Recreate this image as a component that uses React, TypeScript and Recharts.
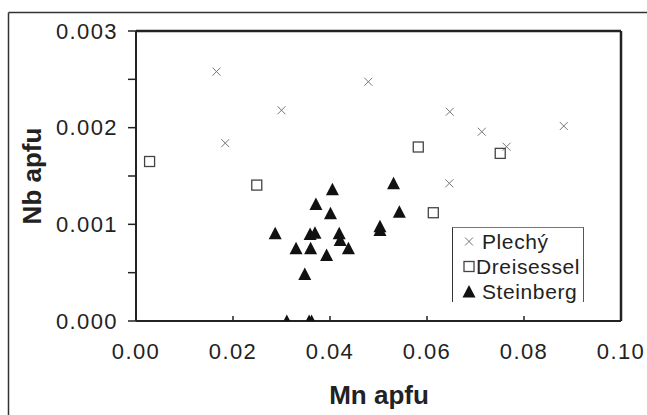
import { ReferenceLine, Scatter, ScatterChart, XAxis, YAxis } from "recharts";

const FONT = '"Liberation Sans", Arial, sans-serif';
const INK = "#222";

// Mn apfu / Nb apfu
const plechyMn = [0.0166, 0.0184, 0.03, 0.0479, 0.0647, 0.0713, 0.0764, 0.0882, 0.0646];
const plechyNb = [0.00258, 0.00184, 0.00218, 0.002475, 0.002165, 0.001958, 0.001803, 0.002017, 0.001424];

const dreisesselMn = [0.0028, 0.0249, 0.0582, 0.0751, 0.0613];
const dreisesselNb = [0.00165, 0.001406, 0.0018, 0.001734, 0.00112];

const steinbergMn = [
  0.0287, 0.033, 0.036, 0.0359, 0.0369, 0.0371, 0.0348, 0.0393, 0.0401, 0.0405,
  0.0419, 0.0421, 0.0438, 0.0503, 0.0503, 0.0531, 0.0543, 0.0311, 0.0357, 0.0362,
];
const steinbergNb = [
  0.000907, 0.000752, 0.000752, 0.0009, 0.000913, 0.00121, 0.000486, 0.000683, 0.001114, 0.001362,
  0.000907, 0.000838, 0.000752, 0.000941, 0.00098, 0.001424, 0.00113, 0, 0, 0,
];

const xTicks = [0, 0.02, 0.04, 0.06, 0.08, 0.1];
const yTicks = [0, 0.0005, 0.001, 0.0015, 0.002, 0.0025, 0.003];

const zip = (xs: number[], ys: number[]) => xs.map((mn, i) => ({ mn, nb: ys[i] }));

function Cross({ cx, cy }: any) {
  const r = 4;
  return (
    <g stroke="#777" strokeWidth={1}>
      <line x1={cx - r} y1={cy - r} x2={cx + r} y2={cy + r} />
      <line x1={cx - r} y1={cy + r} x2={cx + r} y2={cy - r} />
    </g>
  );
}

function Square({ cx, cy }: any) {
  return <rect x={cx - 5} y={cy - 5} width={10} height={10} fill="none" stroke="#444" strokeWidth={1.3} />;
}

function Triangle({ cx, cy }: any) {
  return <polygon points={`${cx},${cy - 6.5} ${cx - 6.5},${cy + 6} ${cx + 6.5},${cy + 6}`} fill="#111" />;
}

// x ticks point into the plot, labels sit below the axis
const X_LABEL_GAP = 22;
function XTick({ x, y, payload }: any) {
  const axisY = y - X_LABEL_GAP;
  return (
    <g>
      <line x1={x} x2={x} y1={axisY} y2={axisY - 5} stroke={INK} strokeWidth={1.5} />
      <text x={x} y={y} dy="0.71em" textAnchor="middle" fill={INK} fontSize={22} fontFamily={FONT} letterSpacing={1.4}>
        {Number(payload.value).toFixed(2)}
      </text>
    </g>
  );
}

const legendItems = [
  { name: "Plechý", Shape: Cross },
  { name: "Dreisessel", Shape: Square },
  { name: "Steinberg", Shape: Triangle },
];

export default function App() {
  return (
    <div
      style={{
        position: "fixed",
        left: 0,
        top: 0,
        width: 647,
        height: 415,
        overflow: "hidden",
        background: "#fff",
        fontFamily: FONT,
      }}
    >
      <style>{"html, body { margin: 0; overflow: hidden; }"}</style>
      <svg width={647} height={415} style={{ position: "absolute", left: 0, top: 0 }}>
        <line x1={8.5} y1={12.5} x2={647} y2={12.5} stroke="#333" strokeWidth={1.5} />
        <line x1={8.5} y1={12.5} x2={8.5} y2={415} stroke="#333" strokeWidth={1.5} />
      </svg>
      <ScatterChart width={647} height={415} margin={{ top: 31, right: 26, bottom: 0, left: 0 }}>
        <XAxis
          type="number"
          dataKey="mn"
          domain={[0, 0.1]}
          ticks={xTicks}
          height={94}
          tickSize={0}
          tickMargin={X_LABEL_GAP}
          axisLine={{ stroke: INK, strokeWidth: 2 }}
          tickLine={false}
          tick={<XTick />}
          allowDataOverflow
        />
        <YAxis
          type="number"
          dataKey="nb"
          domain={[0, 0.003]}
          ticks={yTicks}
          tickFormatter={(v: number) => (Math.round(v * 2000) % 2 === 0 ? v.toFixed(3) : "")}
          width={136}
          tickSize={8}
          tickMargin={10}
          axisLine={{ stroke: INK, strokeWidth: 2 }}
          tickLine={{ stroke: INK, strokeWidth: 1.5 }}
          tick={{ fill: INK, fontSize: 22, fontFamily: FONT, letterSpacing: 1.4 }}
          allowDataOverflow
        />
        <ReferenceLine y={0.003} stroke={INK} strokeWidth={2.5} />
        <ReferenceLine x={0.1} stroke={INK} strokeWidth={2.5} />
        <Scatter name="Plechý" data={zip(plechyMn, plechyNb)} shape={Cross} isAnimationActive={false} />
        <Scatter name="Dreisessel" data={zip(dreisesselMn, dreisesselNb)} shape={Square} isAnimationActive={false} />
        <Scatter name="Steinberg" data={zip(steinbergMn, steinbergNb)} shape={Triangle} isAnimationActive={false} />
      </ScatterChart>
      <svg width={647} height={415} style={{ position: "absolute", left: 0, top: 0, pointerEvents: "none" }}>
        <text
          x={32}
          y={176}
          transform="rotate(-90 32 176)"
          textAnchor="middle"
          dominantBaseline="central"
          fontSize={26}
          fontWeight="bold"
          fill={INK}
          fontFamily={FONT}
        >
          Nb apfu
        </text>
        <text x={379} y={395} textAnchor="middle" dominantBaseline="central" fontSize={26} fontWeight="bold" fill={INK} fontFamily={FONT}>
          Mn apfu
        </text>
      </svg>
      <div
        style={{
          position: "absolute",
          left: 452,
          top: 227,
          width: 132,
          height: 75,
          borderLeft: "1.5px solid #333",
          borderRight: "1.5px solid #555",
          borderTop: "1px solid #777",
          background: "#fff",
          boxSizing: "border-box",
        }}
      >
        {legendItems.map(({ name, Shape }, i) => (
          <div key={name} style={{ position: "absolute", left: 0, top: 1 + i * 25, height: 25, display: "flex", alignItems: "center" }}>
            <svg width={i === 1 ? 22 : 28} height={25}>
              <Shape cx={16} cy={12.5} />
            </svg>
            <span style={{ fontSize: 21, color: INK, marginLeft: 1, letterSpacing: 0.6, lineHeight: "25px" }}>{name}</span>
          </div>
        ))}
      </div>
    </div>
  );
}
